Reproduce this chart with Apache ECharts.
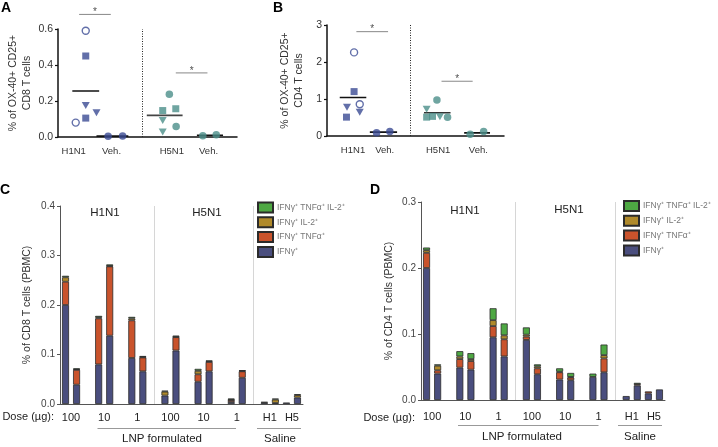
<!DOCTYPE html>
<html><head><meta charset="utf-8">
<script src="https://cdn.jsdelivr.net/npm/echarts@6/dist/echarts.min.js"></script>
<style>html,body{margin:0;padding:0;background:#fff}#c{width:718px;height:447px}</style>
</head><body><div id="c"></div>
<script>
// ================= DATA =================
// Panels A & B: scatter groups
const scatterGroupLabels = ['H1N1', 'Veh.', 'H5N1', 'Veh.'];

const A_H1N1 = [0.59, 0.45, 0.175, 0.105, 0.08, 0.135];
const A_H1N1_shapes = ['openCircle', 'square', 'triangle', 'square', 'openCircle', 'triangle'];
const A_VehH1 = [0.004, 0.006];
const A_H5N1 = [0.238, 0.147, 0.157, 0.092, 0.028, 0.059];
const A_H5N1_shapes = ['circle', 'square', 'square', 'triangle', 'triangle', 'circle'];
const A_VehH5 = [0.007, 0.013];

const B_H1N1 = [2.26, 1.20, 0.78, 0.86, 0.51, 0.64];
const B_H1N1_shapes = ['openCircle', 'square', 'triangle', 'openCircle', 'square', 'triangle'];
const B_VehH1 = [0.09, 0.12];
const B_H5N1 = [0.97, 0.72, 0.51, 0.53, 0.52, 0.51];
const B_H5N1_shapes = ['circle', 'triangle', 'square', 'square', 'triangle', 'circle'];
const B_VehH5 = [0.05, 0.12];

// Panels C & D: stacked bars (22 slots, '' = gap)
const barSlots = ['H1N1 100 a', 'H1N1 100 b', '', 'H1N1 10 a', 'H1N1 10 b', '', 'H1N1 1 a', 'H1N1 1 b', '',
  'H5N1 100 a', 'H5N1 100 b', '', 'H5N1 10 a', 'H5N1 10 b', '', 'H5N1 1 a', 'H5N1 1 b', '',
  'Saline H1 a', 'Saline H1 b', 'Saline H5 a', 'Saline H5 b'];
const doseLabels = ['100', '10', '1', '100', '10', '1', 'H1', 'H5'];
const seriesNames = ['IFNγ⁺', 'IFNγ⁺ TNFα⁺', 'IFNγ⁺ IL-2⁺', 'IFNγ⁺ TNFα⁺ IL-2⁺'];

const C_IFN = [0.200, 0.039, null, 0.080, 0.138, null, 0.093, 0.066, null, 0.017, 0.108, null, 0.045, 0.066, null, 0.004, 0.053, null, 0.003, 0.002, 0.003, 0.013];
const C_TNF = [0.047, 0.030, null, 0.093, 0.140, null, 0.076, 0.028, null, null, 0.027, null, 0.015, 0.019, null, 0.004, 0.013, null, null, null, null, null];
const C_IL2 = [0.009, 0.001, null, 0.002, 0.001, null, 0.004, 0.001, null, 0.008, 0.001, null, 0.007, 0.001, null, 0.001, 0.001, null, null, 0.007, null, 0.005];
const C_TRI = [0.003, 0.002, null, 0.003, 0.003, null, 0.003, 0.002, null, 0.002, 0.002, null, 0.004, 0.002, null, 0.002, 0.001, null, 0.001, 0.002, null, 0.002];

const D_IFN = [0.200, 0.040, null, 0.049, 0.046, null, 0.095, 0.066, null, 0.091, 0.039, null, 0.031, 0.030, null, 0.035, 0.042, null, 0.006, 0.022, 0.010, 0.016];
const D_TNF = [0.023, 0.005, null, 0.013, 0.013, null, 0.017, 0.026, null, 0.005, 0.009, null, 0.011, 0.004, null, null, 0.021, null, null, 0.002, 0.003, null];
const D_IL2 = [0.004, 0.007, null, 0.004, 0.003, null, 0.009, 0.006, null, 0.003, 0.003, null, 0.001, 0.001, null, null, 0.005, null, null, null, null, null];
const D_TRI = [0.004, 0.002, null, 0.008, 0.009, null, 0.018, 0.018, null, 0.011, 0.003, null, 0.005, 0.006, null, 0.005, 0.016, null, null, 0.002, null, null];

// ================= LAYOUT / STYLE =================
const FONT = '"Liberation Sans", Arial, Helvetica, sans-serif';
const BLUE = '#3b4b93', TEAL = '#4b8f8a';
const COL = ['#4a4e7e', '#c9532c', '#b08a2b', '#4ea843'];

const layoutA = {
  centers: [1.55, 3.04, 5.96, 8.49], half: [0.75, 0.89, 1.0, 0.73],
  jit: [[0, 0, 0, 0, -0.56, 0.6], [-0.24, 0.57], [0.26, -0.11, 0.62, -0.11, -0.11, 0.64], [-0.4, 0.35]],
  labelPos: [0.88, 2.99, 6.36, 8.41], sep: 4.73,
  sig: [[1.18, 2.95, 0.681], [6.58, 8.35, 0.356]]
};
const layoutB = {
  centers: [1.47, 3.19, 6.23, 8.48], half: [0.75, 0.77, 0.75, 0.73],
  jit: [[0.06, 0.06, -0.34, 0.38, -0.37, 0.38], [-0.39, 0.36], [-0.02, -0.6, -0.6, -0.27, 0.15, 0.58], [-0.39, 0.37]],
  labelPos: [1.47, 3.26, 6.28, 8.55], sep: 4.68,
  sig: [[1.66, 3.45, 2.82], [6.47, 8.23, 1.48]]
};
const doseLabelPos = [1, 4, 7, 10, 13, 16, 19, 21];

const mean = a => a.reduce((s, v) => s + v, 0) / a.length;

function pointItems(values, shapes, center, jitter, color) {
  return values.map((v, i) => {
    const s = shapes ? shapes[i] : 'circle';
    const it = { value: [center + jitter[i], v] };
    if (s === 'openCircle') { it.symbol = 'circle'; it.symbolSize = 7; it.itemStyle = { color: '#fff', borderColor: color, borderWidth: 1.4 }; }
    else if (s === 'square') { it.symbol = 'rect'; it.symbolSize = 7; it.itemStyle = { color: color }; }
    else if (s === 'triangle') { it.symbol = 'triangle'; it.symbolRotate = 180; it.symbolSize = [8, 7]; it.itemStyle = { color: color }; }
    else { it.symbol = 'circle'; it.symbolSize = 7.5; it.itemStyle = { color: color }; }
    return it;
  });
}

function scatterPanel(idx, L, groups, shapes, colors, meanColors) {
  const out = [];
  groups.forEach((vals, g) => {
    const s = {
      type: 'scatter', xAxisIndex: idx, yAxisIndex: idx, z: 3, clip: false, silent: true,
      data: pointItems(vals, shapes[g], L.centers[g], L.jit[g], colors[g])
    };
    if (g === 0) {
      s.markLine = {
        silent: true, symbol: ['none', 'none'], label: { show: false },
        lineStyle: { type: [1, 1.5], color: '#222', width: 1 },
        data: [{ xAxis: L.sep }]
      };
    }
    out.push(s);
    const m = mean(vals);
    out.push({
      type: 'line', xAxisIndex: idx, yAxisIndex: idx, z: 2, clip: false, silent: true,
      symbol: 'none', lineStyle: { color: meanColors[g], width: 1.6 },
      data: [[L.centers[g] - L.half[g], m], [L.centers[g] + L.half[g], m]]
    });
  });
  L.sig.forEach(sg => {
    out.push({
      type: 'line', xAxisIndex: idx, yAxisIndex: idx, clip: false, silent: true, symbol: 'none',
      lineStyle: { color: '#888', width: 1 }, data: [[sg[0], sg[2]], [sg[1], sg[2]]]
    });
    out.push({
      type: 'scatter', xAxisIndex: idx, yAxisIndex: idx, clip: false, silent: true, symbolSize: 0,
      label: { show: true, formatter: '*', position: 'top', distance: 0, offset: [0, 3], fontSize: 10, color: '#222', fontFamily: FONT },
      data: [[(sg[0] + sg[1]) / 2, sg[2]]]
    });
  });
  return out;
}

function barSeries(xIdx, yIdx, arrays, withSep) {
  return arrays.map((arr, k) => {
    const s = {
      type: 'bar', name: seriesNames[k], stack: 'st' + xIdx, xAxisIndex: xIdx, yAxisIndex: yIdx,
      barWidth: 7, data: arr,
      itemStyle: { color: COL[k], borderColor: '#2b2b2b', borderWidth: 0.8 }
    };
    if (k === 0 && withSep) {
      s.markLine = {
        silent: true, symbol: ['none', 'none'], label: { show: false },
        lineStyle: { type: 'solid', color: '#d6d6d6', width: 1 },
        data: [{ xAxis: 8 }, { xAxis: 17 }]
      };
    }
    return s;
  });
}

function scatterXAxis(grid, L, margin) {
  return {
    type: 'value', gridIndex: grid, min: 0, max: 10,
    axisLine: { show: true, onZero: false, lineStyle: { color: '#111', width: 1.5 } },
    axisTick: { show: false }, splitLine: { show: false },
    axisLabel: {
      customValues: L.labelPos, margin: margin, fontSize: 9.5, color: '#333', fontFamily: FONT,
      formatter: v => { let b = 0; L.labelPos.forEach((p, i) => { if (Math.abs(p - v) < Math.abs(L.labelPos[b] - v)) b = i; }); return scatterGroupLabels[b]; }
    }
  };
}
function scatterYAxis(grid, max, interval, name, dec) {
  return {
    type: 'value', gridIndex: grid, min: 0, max: max, interval: interval,
    name: name, nameLocation: 'middle', nameGap: 21,
    nameTextStyle: { fontSize: 10.5, lineHeight: 14, color: '#333', fontFamily: FONT },
    axisLine: { show: true, lineStyle: { color: '#111', width: 1.5 } },
    axisTick: { show: true, length: 3, lineStyle: { color: '#111', width: 1.2 } },
    splitLine: { show: false },
    axisLabel: { margin: 5, fontSize: 10.5, color: '#333', fontFamily: FONT, formatter: v => v.toFixed(dec) }
  };
}
function barCatAxis(grid) {
  return {
    type: 'category', gridIndex: grid, data: barSlots,
    axisLine: { show: true, lineStyle: { color: '#555', width: 1 } },
    axisTick: { show: false }, axisLabel: { show: false }
  };
}
function doseAxis(grid, margin) {
  return {
    type: 'value', gridIndex: grid, min: 0, max: barSlots.length, position: 'bottom',
    axisLine: { show: false }, axisTick: { show: false }, splitLine: { show: false },
    axisLabel: {
      customValues: doseLabelPos, margin: margin, fontSize: 11, color: '#222', fontFamily: FONT,
      formatter: v => doseLabels[doseLabelPos.indexOf(v)]
    }
  };
}
function barYAxis(grid, max, name, gap) {
  return {
    type: 'value', gridIndex: grid, min: 0, max: max, interval: 0.1,
    name: name, nameLocation: 'middle', nameGap: gap,
    nameTextStyle: { fontSize: 10.5, color: '#333', fontFamily: FONT },
    axisLine: { show: true, lineStyle: { color: '#555', width: 1 } },
    axisTick: { show: true, length: 3, lineStyle: { color: '#555' } },
    splitLine: { show: false },
    axisLabel: { margin: 5, fontSize: 10, color: '#444', fontFamily: FONT, formatter: v => v.toFixed(1) }
  };
}
function legendAt(left, top) {
  return {
    data: [seriesNames[3], seriesNames[2], seriesNames[1], seriesNames[0]],
    left: left, top: top, orient: 'vertical', icon: 'rect', padding: 0,
    itemWidth: 15, itemHeight: 10, itemGap: 2.8, selectedMode: false,
    textStyle: { fontSize: 8.5, lineHeight: 10, color: '#777', fontFamily: FONT, padding: [0, 0, 0, -1] }
  };
}

function txt(x, y, text, size, opts) {
  opts = opts || {};
  return {
    type: 'text', x: x, y: y, silent: true,
    style: {
      text: text, fill: opts.fill || '#222', fontSize: size, fontFamily: FONT, fontWeight: opts.bold ? 'bold' : 'normal',
      textAlign: opts.align || 'center', align: opts.align || 'center',
      textVerticalAlign: opts.va || 'middle', verticalAlign: opts.va || 'middle'
    }
  };
}
function hline(x1, x2, y) {
  return { type: 'line', silent: true, shape: { x1: x1, y1: y, x2: x2, y2: y }, style: { stroke: '#999', lineWidth: 1 } };
}

const option = {
  animation: false,
  backgroundColor: '#fff',
  textStyle: { fontFamily: FONT },
  grid: [
    { left: 58, top: 29, width: 179, height: 108 },
    { left: 327, top: 25, width: 177, height: 111 },
    { left: 60, top: 206, width: 243, height: 198 },
    { left: 421, top: 202, width: 244, height: 198 }
  ],
  xAxis: [
    scatterXAxis(0, layoutA, 9),
    scatterXAxis(1, layoutB, 9.5),
    barCatAxis(2), doseAxis(2, 8),
    barCatAxis(3), doseAxis(3, 11.5)
  ],
  yAxis: [
    scatterYAxis(0, 0.6, 0.2, '% of OX-40+ CD25+\nCD8 T cells', 1),
    scatterYAxis(1, 3, 1, '% of OX-40+ CD25+\nCD4 T cells', 0),
    barYAxis(2, 0.4, '% of CD8 T cells (PBMC)', 27),
    barYAxis(3, 0.3, '% of CD4 T cells (PBMC)', 26)
  ],
  legend: [legendAt(257, 201.5), legendAt(623, 200)],
  series: [].concat(
    scatterPanel(0, layoutA, [A_H1N1, A_VehH1, A_H5N1, A_VehH5],
      [A_H1N1_shapes, null, A_H5N1_shapes, null], [BLUE, BLUE, TEAL, TEAL], ['#111', '#111', '#444', '#111']),
    scatterPanel(1, layoutB, [B_H1N1, B_VehH1, B_H5N1, B_VehH5],
      [B_H1N1_shapes, null, B_H5N1_shapes, null], [BLUE, BLUE, TEAL, TEAL], ['#111', '#111', '#333', '#111']),
    barSeries(2, 2, [C_IFN, C_TNF, C_IL2, C_TRI], true),
    barSeries(4, 3, [D_IFN, D_TNF, D_IL2, D_TRI], true)
  ),
  graphic: [
    txt(1, 1, 'A', 14, { bold: true, align: 'left', va: 'top', fill: '#000' }),
    txt(273, 1, 'B', 14, { bold: true, align: 'left', va: 'top', fill: '#000' }),
    txt(0, 183, 'C', 14, { bold: true, align: 'left', va: 'top', fill: '#000' }),
    txt(370, 183, 'D', 14, { bold: true, align: 'left', va: 'top', fill: '#000' }),
    txt(105, 213, 'H1N1', 11.5), txt(207, 213, 'H5N1', 11.5),
    txt(465, 211, 'H1N1', 11.5), txt(569, 210, 'H5N1', 11.5),
    txt(54, 417, 'Dose (µg):', 11, { align: 'right' }),
    txt(415, 417.5, 'Dose (µg):', 11, { align: 'right' }),
    hline(97.5, 236, 428.5), hline(257, 301, 428.5),
    txt(162, 439, 'LNP formulated', 11.5), txt(280, 439, 'Saline', 11.5),
    hline(458, 598.5, 425.5), hline(618, 662, 425.5),
    txt(522, 437, 'LNP formulated', 11.5), txt(640, 437, 'Saline', 11.5)
  ]
};

const chart = echarts.init(document.getElementById('c'));
chart.setOption(option);
</script>
</body></html>
